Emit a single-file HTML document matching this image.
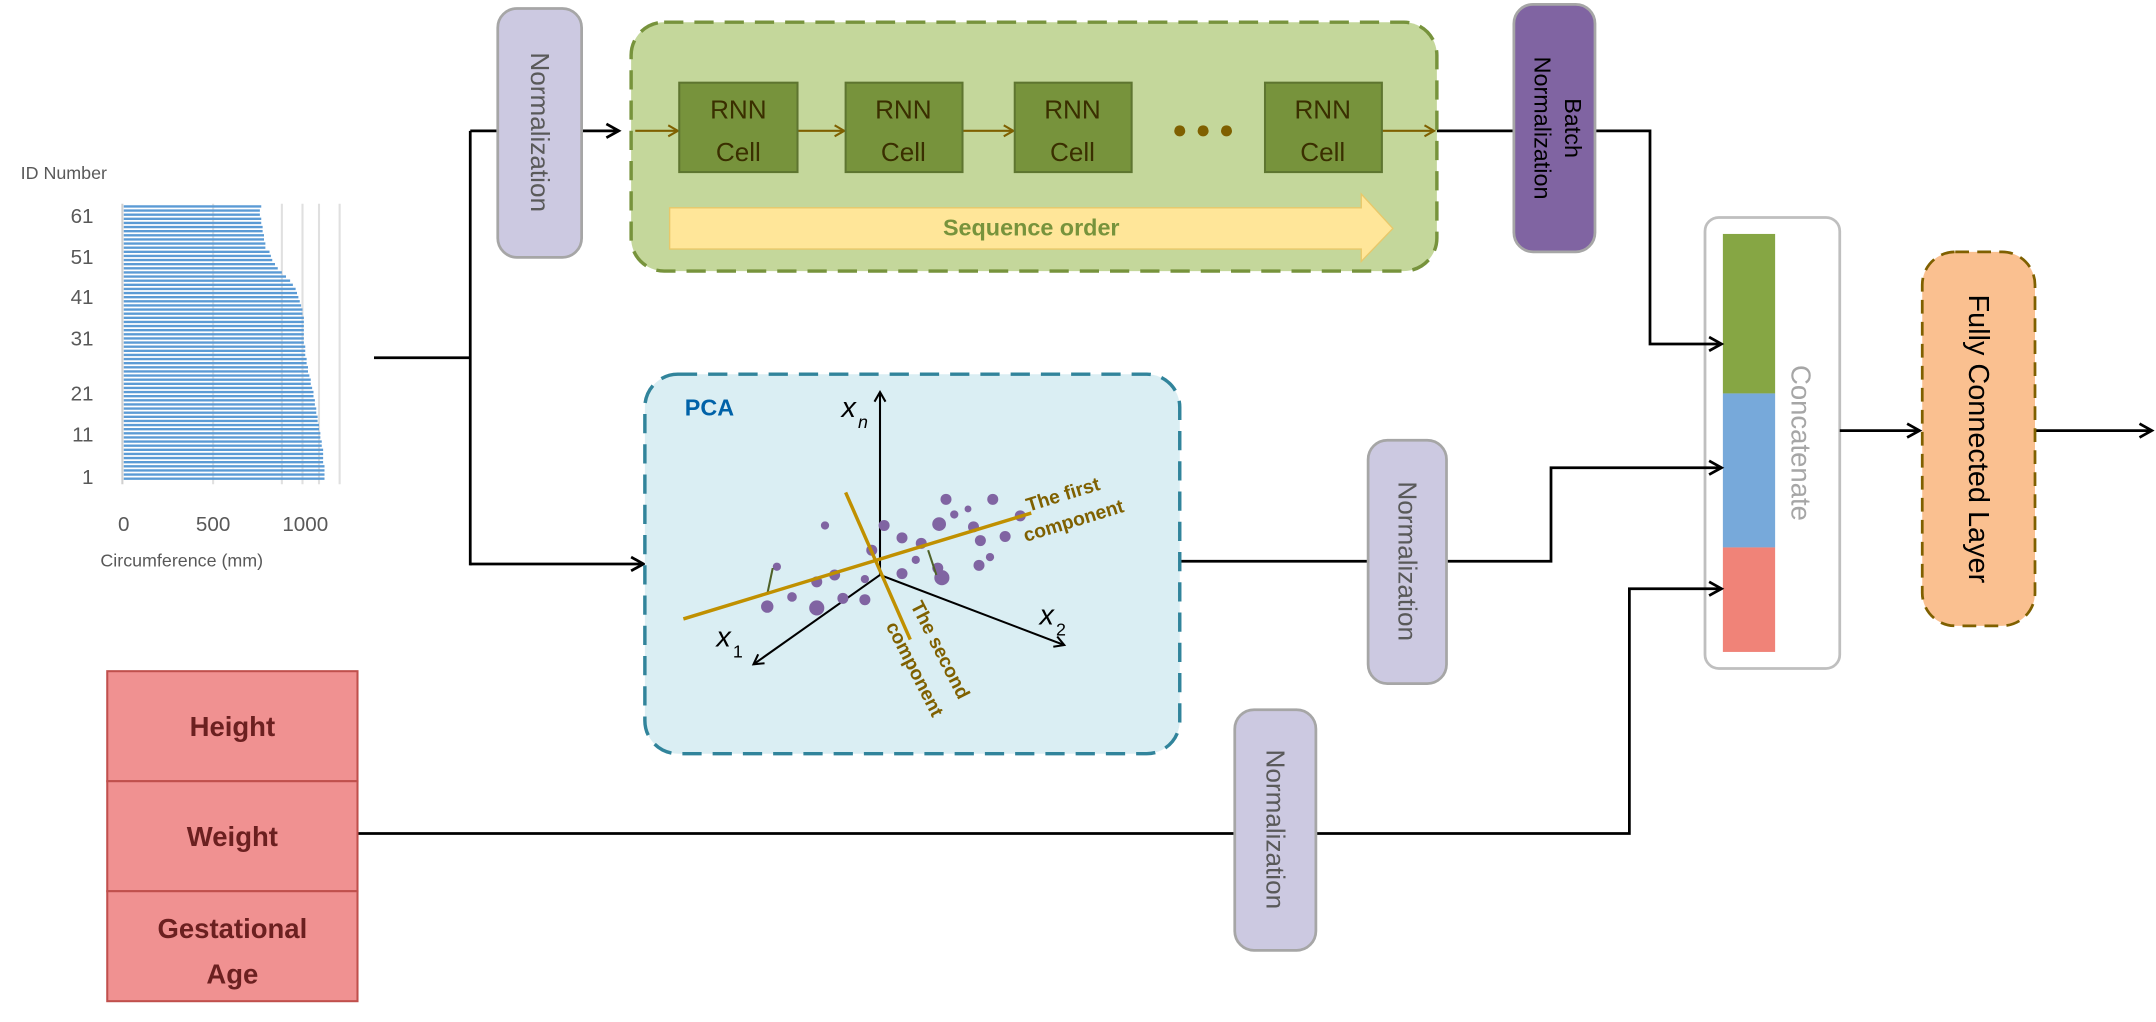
<!DOCTYPE html>
<html><head><meta charset="utf-8"><style>
html,body{margin:0;padding:0;background:#fff;}
svg{display:block;}
text{font-family:"Liberation Sans",sans-serif;}
</style></head><body>
<svg width="2156" height="1022" viewBox="0 0 1568 743" xmlns="http://www.w3.org/2000/svg">
<defs>
<marker id="ar" markerWidth="12" markerHeight="12" refX="10" refY="6" orient="auto" markerUnits="userSpaceOnUse">
<path d="M1,1 L10,6 L1,11" fill="none" stroke="#000" stroke-width="2"/></marker>
<marker id="ab" markerWidth="10" markerHeight="10" refX="8" refY="5" orient="auto" markerUnits="userSpaceOnUse">
<path d="M1,1 L8,5 L1,9" fill="none" stroke="#7f6000" stroke-width="1.5"/></marker>
<marker id="as" markerWidth="10" markerHeight="10" refX="8" refY="5" orient="auto" markerUnits="userSpaceOnUse">
<path d="M1,1 L8,5 L1,9" fill="none" stroke="#000" stroke-width="1.5"/></marker>
</defs>

<!-- bar chart -->
<text x="15" y="130" font-size="13" fill="#595959">ID Number</text>
<g font-size="15" fill="#595959" text-anchor="end">
<text x="68" y="162">61</text><text x="68" y="192">51</text><text x="68" y="221">41</text>
<text x="68" y="251">31</text><text x="68" y="291">21</text><text x="68" y="321">11</text><text x="68" y="352">1</text>
</g>
<g stroke="#e0e0e0" stroke-width="1.5">
<line x1="155" y1="148" x2="155" y2="352"/><line x1="220" y1="148" x2="220" y2="352"/>
<line x1="205" y1="148" x2="205" y2="352"/><line x1="232" y1="148" x2="232" y2="352"/><line x1="247" y1="148" x2="247" y2="352"/>
</g>
<line x1="89" y1="148" x2="89" y2="352" stroke="#d0d0d0" stroke-width="1.5"/>
<g stroke="#5b9bd5" stroke-width="1.7">
<line x1="90" y1="150" x2="190" y2="150"/><line x1="90" y1="153" x2="189" y2="153"/><line x1="90" y1="156" x2="189" y2="156"/><line x1="90" y1="159" x2="190" y2="159"/><line x1="90" y1="162" x2="190" y2="162"/><line x1="90" y1="165" x2="191" y2="165"/><line x1="90" y1="168" x2="191" y2="168"/><line x1="90" y1="171" x2="192" y2="171"/><line x1="90" y1="174" x2="192" y2="174"/><line x1="90" y1="177" x2="193" y2="177"/><line x1="90" y1="180" x2="193" y2="180"/><line x1="90" y1="183" x2="196" y2="183"/><line x1="90" y1="186" x2="197" y2="186"/><line x1="90" y1="189" x2="198" y2="189"/><line x1="90" y1="192" x2="200" y2="192"/><line x1="90" y1="195" x2="202" y2="195"/><line x1="90" y1="198" x2="205" y2="198"/><line x1="90" y1="201" x2="208" y2="201"/><line x1="90" y1="204" x2="211" y2="204"/><line x1="90" y1="207" x2="213" y2="207"/><line x1="90" y1="210" x2="215" y2="210"/><line x1="90" y1="213" x2="216" y2="213"/><line x1="90" y1="216" x2="217" y2="216"/><line x1="90" y1="219" x2="218" y2="219"/><line x1="90" y1="222" x2="219" y2="222"/><line x1="90" y1="225" x2="220" y2="225"/><line x1="90" y1="228" x2="220" y2="228"/><line x1="90" y1="231" x2="221" y2="231"/><line x1="90" y1="234" x2="221" y2="234"/><line x1="90" y1="237" x2="221" y2="237"/><line x1="90" y1="240" x2="221" y2="240"/><line x1="90" y1="243" x2="221" y2="243"/><line x1="90" y1="246" x2="221" y2="246"/><line x1="90" y1="249" x2="221" y2="249"/><line x1="90" y1="252" x2="222" y2="252"/><line x1="90" y1="255" x2="222" y2="255"/><line x1="90" y1="258" x2="222" y2="258"/><line x1="90" y1="261" x2="223" y2="261"/><line x1="90" y1="264" x2="223" y2="264"/><line x1="90" y1="267" x2="224" y2="267"/><line x1="90" y1="270" x2="224" y2="270"/><line x1="90" y1="273" x2="225" y2="273"/><line x1="90" y1="276" x2="226" y2="276"/><line x1="90" y1="279" x2="226" y2="279"/><line x1="90" y1="282" x2="227" y2="282"/><line x1="90" y1="285" x2="228" y2="285"/><line x1="90" y1="288" x2="228" y2="288"/><line x1="90" y1="291" x2="229" y2="291"/><line x1="90" y1="294" x2="229" y2="294"/><line x1="90" y1="297" x2="230" y2="297"/><line x1="90" y1="300" x2="230" y2="300"/><line x1="90" y1="303" x2="231" y2="303"/><line x1="90" y1="306" x2="231" y2="306"/><line x1="90" y1="309" x2="232" y2="309"/><line x1="90" y1="312" x2="232" y2="312"/><line x1="90" y1="315" x2="233" y2="315"/><line x1="90" y1="318" x2="233" y2="318"/><line x1="90" y1="321" x2="234" y2="321"/><line x1="90" y1="324" x2="234" y2="324"/><line x1="90" y1="327" x2="235" y2="327"/><line x1="90" y1="330" x2="235" y2="330"/><line x1="90" y1="333" x2="235" y2="333"/><line x1="90" y1="336" x2="235" y2="336"/><line x1="90" y1="339" x2="236" y2="339"/><line x1="90" y1="342" x2="236" y2="342"/><line x1="90" y1="345" x2="236" y2="345"/><line x1="90" y1="348" x2="236" y2="348"/>
</g>
<g font-size="15" fill="#595959" text-anchor="middle">
<text x="90" y="386">0</text><text x="155" y="386">500</text><text x="222" y="386">1000</text>
</g>
<text x="73" y="412" font-size="13" fill="#595959">Circumference (mm)</text>

<!-- Concatenate box (under connectors) -->
<rect x="1240" y="158" width="98" height="328" rx="10" fill="#fff" stroke="#bfbfbf" stroke-width="2"/>
<rect x="1253" y="170" width="38" height="116" fill="#86a644"/>
<rect x="1253" y="286" width="38" height="112" fill="#77a9da"/>
<rect x="1253" y="398" width="38" height="76" fill="#f08378"/>
<text transform="translate(1303,322) rotate(90)" font-size="20" fill="#a6a6a6" text-anchor="middle">Concatenate</text>

<!-- connectors -->
<g stroke="#000" stroke-width="2" fill="none">
<line x1="272" y1="260" x2="342" y2="260"/>
<line x1="342" y1="95" x2="342" y2="411"/>
<line x1="342" y1="95" x2="450" y2="95" marker-end="url(#ar)"/>
<line x1="342" y1="410" x2="468" y2="410" marker-end="url(#ar)"/>
<polyline points="1045,95 1200,95 1200,250 1252,250" marker-end="url(#ar)"/>
<polyline points="858,408 1128,408 1128,340 1252,340" marker-end="url(#ar)"/>
<polyline points="260,606 1185,606 1185,428 1252,428" marker-end="url(#ar)"/>
<line x1="1338" y1="313" x2="1396" y2="313" marker-end="url(#ar)"/>
<line x1="1480" y1="313" x2="1565" y2="313" marker-end="url(#ar)"/>
</g>

<!-- Normalization top -->
<rect x="362" y="6" width="61" height="181" rx="14" fill="#ccc9e1" stroke="#a6a6a6" stroke-width="2"/>
<text transform="translate(386,96) rotate(90)" font-size="19" fill="#595959" text-anchor="middle">Normalization</text>

<!-- RNN box -->
<rect x="459" y="16" width="586" height="181" rx="24" fill="#c4d79b" stroke="#77933c" stroke-width="2.5" stroke-dasharray="14,8"/>
<g stroke="#7f6000" stroke-width="1.5">
<line x1="462" y1="95" x2="493" y2="95" marker-end="url(#ab)"/>
<line x1="580" y1="95" x2="614" y2="95" marker-end="url(#ab)"/>
<line x1="700" y1="95" x2="737" y2="95" marker-end="url(#ab)"/>
<line x1="1005" y1="95" x2="1043" y2="95" marker-end="url(#ab)"/>
</g>
<g fill="#77933c" stroke="#5e7530" stroke-width="1.5">
<rect x="494" y="60" width="86" height="65"/><rect x="615" y="60" width="85" height="65"/>
<rect x="738" y="60" width="85" height="65"/><rect x="920" y="60" width="85" height="65"/>
</g>
<g font-size="19" fill="#3a2f00" text-anchor="middle">
<text x="537" y="86">RNN</text><text x="537" y="117">Cell</text>
<text x="657" y="86">RNN</text><text x="657" y="117">Cell</text>
<text x="780" y="86">RNN</text><text x="780" y="117">Cell</text>
<text x="962" y="86">RNN</text><text x="962" y="117">Cell</text>
</g>
<g fill="#7f6000"><circle cx="858" cy="95" r="4"/><circle cx="875" cy="95" r="4"/><circle cx="892" cy="95" r="4"/></g>
<path d="M487,151 L990,151 L990,141 L1013,166 L990,190 L990,181 L487,181 Z" fill="#ffe699" stroke="#e8c86a" stroke-width="1"/>
<text x="750" y="171" font-size="17" font-weight="bold" fill="#77933c" text-anchor="middle">Sequence order</text>

<!-- Batch Normalization -->
<rect x="1101" y="3" width="59" height="180" rx="14" fill="#8064a2" stroke="#a6a6a6" stroke-width="2"/>
<text transform="translate(1138,93) rotate(90)" font-size="17" fill="#000" text-anchor="middle">Batch</text>
<text transform="translate(1116,93) rotate(90)" font-size="17" fill="#000" text-anchor="middle">Normalization</text>

<!-- PCA box -->
<rect x="469" y="272" width="389" height="276" rx="24" fill="#daeef3" stroke="#31849b" stroke-width="2.5" stroke-dasharray="14,8"/>
<text x="498" y="302" font-size="17" font-weight="bold" fill="#0062a8">PCA</text>
<g stroke="#000" stroke-width="1.5" fill="none">
<line x1="640" y1="418" x2="640" y2="285" marker-end="url(#as)"/>
<line x1="640" y1="418" x2="548" y2="483" marker-end="url(#as)"/>
<line x1="640" y1="418" x2="774" y2="469" marker-end="url(#as)"/>
</g>
<g font-family="Liberation Serif" font-style="italic" fill="#000">
<text x="612" y="303" font-size="21">x</text><text x="624" y="311" font-size="13">n</text>
<text x="521" y="470" font-size="21">x</text><text x="533" y="478" font-size="13" font-style="normal">1</text>
<text x="756" y="454" font-size="21">x</text><text x="768" y="462" font-size="13" font-style="normal">2</text>
</g>
<g fill="#8064a2">
<circle cx="558" cy="441" r="4.5"/><circle cx="565" cy="412" r="3"/><circle cx="576" cy="434" r="3.5"/>
<circle cx="594" cy="442" r="5.5"/><circle cx="594" cy="423" r="4"/><circle cx="607" cy="418" r="4"/>
<circle cx="600" cy="382" r="3"/><circle cx="613" cy="435" r="4"/><circle cx="629" cy="436" r="4"/>
<circle cx="629" cy="421" r="3"/><circle cx="634" cy="400" r="4"/><circle cx="643" cy="382" r="4"/>
<circle cx="656" cy="391" r="4"/><circle cx="656" cy="417" r="4"/><circle cx="666" cy="407" r="3"/>
<circle cx="670" cy="395" r="4"/><circle cx="683" cy="381" r="5"/><circle cx="682" cy="413" r="4"/>
<circle cx="685" cy="420" r="5.5"/><circle cx="688" cy="363" r="4"/><circle cx="694" cy="374" r="3"/>
<circle cx="704" cy="370" r="2.5"/><circle cx="708" cy="383" r="4"/><circle cx="713" cy="393" r="4"/>
<circle cx="712" cy="411" r="4"/><circle cx="720" cy="405" r="3"/><circle cx="722" cy="363" r="4"/>
<circle cx="731" cy="390" r="4"/><circle cx="742" cy="375" r="4"/>
</g>
<g stroke="#4f6228" stroke-width="1.5"><line x1="562" y1="413" x2="558" y2="432"/><line x1="675" y1="400" x2="681" y2="418"/></g>
<g stroke="#c09000" stroke-width="2.5">
<line x1="497" y1="450" x2="750" y2="373"/>
<line x1="615" y1="358" x2="662" y2="465"/>
</g>
<g font-size="14" font-weight="bold" fill="#7f6000">
<text transform="translate(748,372) rotate(-17)">The first</text>
<text transform="translate(746,394) rotate(-17)">component</text>
<text transform="translate(662,440) rotate(63)">The second</text>
<text transform="translate(644,455) rotate(63)">component</text>
</g>

<!-- Normalization mid -->
<rect x="995" y="320" width="57" height="177" rx="14" fill="#ccc9e1" stroke="#a6a6a6" stroke-width="2"/>
<text transform="translate(1017,408) rotate(90)" font-size="19" fill="#595959" text-anchor="middle">Normalization</text>

<!-- Normalization bottom -->
<rect x="898" y="516" width="59" height="175" rx="14" fill="#ccc9e1" stroke="#a6a6a6" stroke-width="2"/>
<text transform="translate(921,603) rotate(90)" font-size="19" fill="#595959" text-anchor="middle">Normalization</text>

<!-- HWG -->
<g fill="#f09191" stroke="#c0504d" stroke-width="1.5">
<rect x="78" y="488" width="182" height="80"/><rect x="78" y="568" width="182" height="80"/><rect x="78" y="648" width="182" height="80"/>
</g>
<g font-size="20" font-weight="bold" fill="#6b2020" text-anchor="middle">
<text x="169" y="535">Height</text><text x="169" y="615">Weight</text>
<text x="169" y="682">Gestational</text><text x="169" y="715">Age</text>
</g>

<!-- FC -->
<rect x="1398" y="183" width="82" height="272" rx="24" fill="#fac090" stroke="#7f6000" stroke-width="2" stroke-dasharray="10,6"/>
<text transform="translate(1432,319) rotate(90)" font-size="21" fill="#000" text-anchor="middle">Fully Connected Layer</text>
</svg>
</body></html>
